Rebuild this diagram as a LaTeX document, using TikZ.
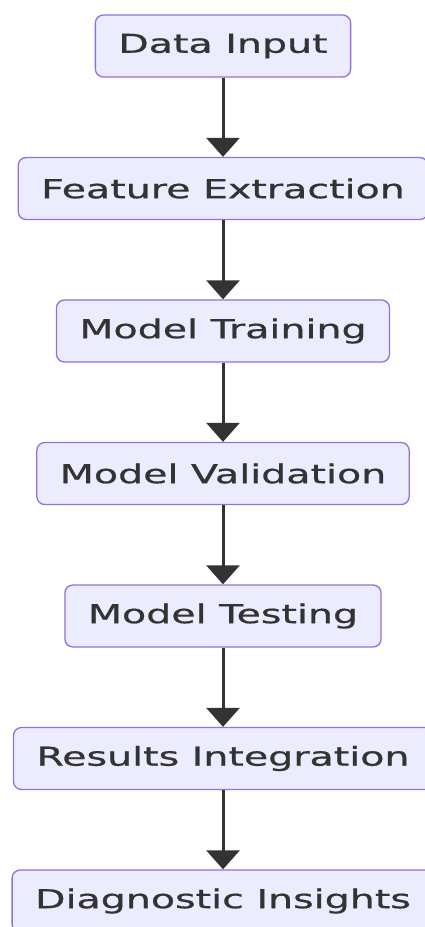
\documentclass[tikz,border=0pt]{standalone}
\usepackage{fontspec}
\setmainfont[FakeBold=0.6]{DejaVu Sans}
\usepackage{tikz}
\usetikzlibrary{arrows.meta}

\definecolor{boxfill}{HTML}{ECECFF}
\definecolor{boxline}{HTML}{9370DB}
\definecolor{ink}{HTML}{333333}

\newcommand{\wide}[1]{\scalebox{1.52}[1]{#1}}

\begin{document}
\begin{tikzpicture}[
	x=1pt,y=1pt,
	block/.style={draw=boxline,line width=1.3pt,fill=boxfill,rounded corners=8pt,
		minimum height=62pt,inner xsep=23pt,text=ink,
		font=\fontsize{26}{30}\selectfont},
	flow/.style={draw=ink,line width=3pt,-{Triangle[width=33pt,length=19pt]}}
	]
		\useasboundingbox (0,0) rectangle (425,-927);
		\fill[white] (0,0) rectangle (425,-927);

		\path (223,-46) node[block] (input) {\wide{Data Input}};
		\path (223,-188.5) node[block] (features) {\wide{Feature Extraction}};
		\path (223,-331) node[block] (training) {\wide{Model Training}};
		\path (223,-473.5) node[block] (validation) {\wide{Model Validation}};
		\path (223,-616) node[block] (testing) {\wide{Model Testing}};
		\path (223,-758.5) node[block] (results) {\wide{Results Integration}};
		\path (223,-901) node[block] (insights) {\wide{Diagnostic Insights}};

		\draw[flow] (input) -- (features);
		\draw[flow] (features) -- (training);
		\draw[flow] (training) -- (validation);
		\draw[flow] (validation) -- (testing);
		\draw[flow] (testing) -- (results);
		\draw[flow] (results) -- (insights);

	\end{tikzpicture}
\end{document}
